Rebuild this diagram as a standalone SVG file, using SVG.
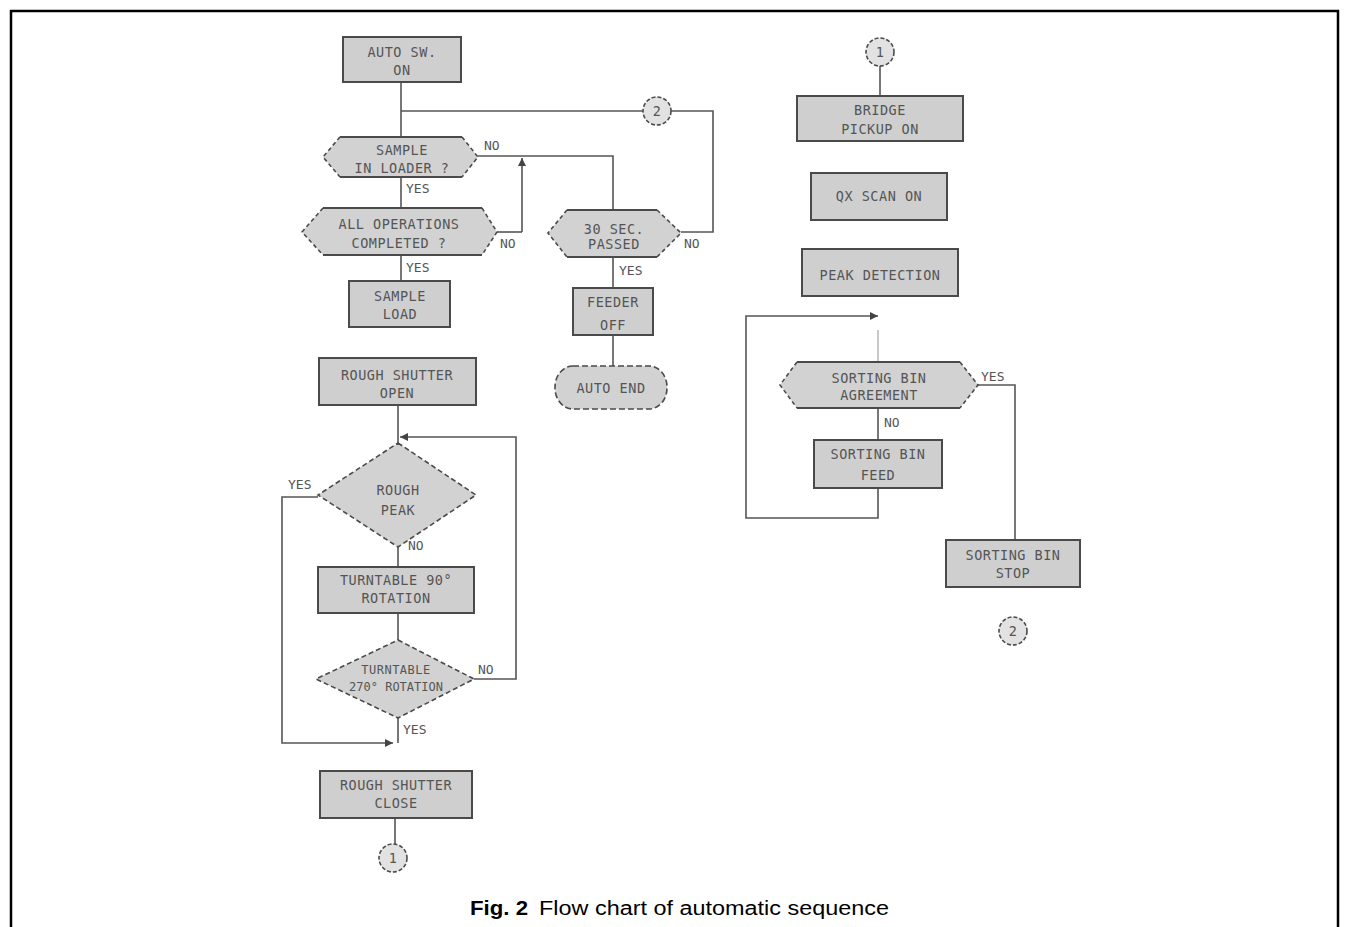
<svg xmlns="http://www.w3.org/2000/svg" width="1349" height="927" viewBox="0 0 1349 927">
<style>
.box{fill:#cfcfcf;stroke:#4a4a4a;stroke-width:2}
.fill{fill:#d2d2d2;stroke:none}
.solid{stroke:#4a4a4a;stroke-width:2;fill:none}
.dash{stroke:#4a4a4a;stroke-width:1.6;fill:none;stroke-dasharray:4 3}
.dia{fill:#d2d2d2;stroke:#4a4a4a;stroke-width:1.6;stroke-dasharray:5 3}
.con{stroke:#555;stroke-width:1.6;fill:none}
.t{font-family:"DejaVu Sans Mono","Liberation Mono",monospace;font-size:13.5px;fill:#555;text-anchor:middle;letter-spacing:0.5px}
.lbl{font-family:"DejaVu Sans Mono","Liberation Mono",monospace;font-size:13px;fill:#555}
.circ{fill:#e2e2e2;stroke:#4a4a4a;stroke-width:1.6;stroke-dasharray:4 2}
.cap{font-family:"Liberation Sans",Arial,sans-serif;font-size:20px;fill:#000}
</style>
<defs>
<marker id="ah" markerWidth="10" markerHeight="10" refX="8" refY="5" orient="auto" markerUnits="userSpaceOnUse">
<path d="M0,1 L8,5 L0,9 z" fill="#444"/>
</marker>
</defs>
<path d="M11,927 L11,11 L1338,11 L1338,927" fill="none" stroke="#000" stroke-width="2.5"/>

<g id="connectors">
<line class="con" x1="401" y1="82" x2="401" y2="137"/>
<polyline class="con" points="401,111 643,111"/>
<polyline class="con" points="671,111 713,111 713,232 681,232"/>
<polyline class="con" points="478,156 613,156 613,210"/>
<line class="con" x1="522" y1="232" x2="522" y2="158" marker-end="url(#ah)"/>
<polyline class="con" points="497,232 522,232"/>
<line class="con" x1="401" y1="177" x2="401" y2="208"/>
<line class="con" x1="401" y1="255" x2="401" y2="281"/>
<line class="con" x1="613" y1="257" x2="613" y2="288"/>
<line class="con" x1="613" y1="335" x2="613" y2="366"/>
<line class="con" x1="398" y1="405" x2="398" y2="443"/>
<polyline class="con" points="474,679 516,679 516,437 400,437" marker-end="url(#ah)"/>
<polyline class="con" points="318,497 282,497 282,743 393,743" marker-end="url(#ah)"/>
<line class="con" x1="398" y1="547" x2="398" y2="567"/>
<line class="con" x1="398" y1="613" x2="398" y2="640"/>
<line class="con" x1="398" y1="718" x2="398" y2="743"/>
<line class="con" x1="395" y1="818" x2="395" y2="844"/>
<line class="con" x1="880" y1="66" x2="880" y2="96"/>
<polyline class="con" points="878,488 878,518 746,518 746,316 878,316" marker-end="url(#ah)"/>
<line class="con" x1="878" y1="330" x2="878" y2="362" stroke-opacity="0.4"/>
<polyline class="con" points="978,385 1015,385 1015,540"/>
<line class="con" x1="878" y1="408" x2="878" y2="440"/>
</g>

<g id="n_auto_sw">
<rect class="box" x="343" y="37" width="118" height="45"/>
<text class="t" x="402" y="57">AUTO SW.</text>
<text class="t" x="402" y="75">ON</text>
</g>

<g id="n_sample_in_loader">
<polygon class="fill" points="323,157 340,137 462,137 478,157 462,177 340,177"/>
<path class="solid" d="M340,137 L462,137 M340,177 L462,177"/>
<path class="dash" d="M340,137 L323,157 L340,177 M462,137 L478,157 L462,177"/>
<text class="t" x="402" y="155">SAMPLE</text>
<text class="t" x="402" y="173">IN LOADER ?</text>
<text class="lbl" x="484" y="150">NO</text>
<text class="lbl" x="406" y="193">YES</text>
</g>

<g id="n_all_ops">
<polygon class="fill" points="302,232 323,208 482,208 497,232 482,255 323,255"/>
<path class="solid" d="M323,208 L482,208 M323,255 L482,255"/>
<path class="dash" d="M323,208 L302,232 L323,255 M482,208 L497,232 L482,255"/>
<text class="t" x="399" y="229">ALL OPERATIONS</text>
<text class="t" x="399" y="248">COMPLETED ?</text>
<text class="lbl" x="500" y="248">NO</text>
<text class="lbl" x="406" y="272">YES</text>
</g>

<g id="n_sample_load">
<rect class="box" x="349" y="281" width="101" height="46"/>
<text class="t" x="400" y="301">SAMPLE</text>
<text class="t" x="400" y="319">LOAD</text>
</g>

<g id="n_30sec">
<polygon class="fill" points="548,233 567,210 657,210 681,233 657,257 567,257"/>
<path class="solid" d="M567,210 L657,210 M567,257 L657,257"/>
<path class="dash" d="M567,210 L548,233 L567,257 M657,210 L681,233 L657,257"/>
<text class="t" x="614" y="234">30 SEC.</text>
<text class="t" x="614" y="249">PASSED</text>
<text class="lbl" x="684" y="248">NO</text>
<text class="lbl" x="619" y="275">YES</text>
</g>

<g id="n_feeder_off">
<rect class="box" x="573" y="288" width="80" height="47"/>
<text class="t" x="613" y="307">FEEDER</text>
<text class="t" x="613" y="330">OFF</text>
</g>

<g id="n_auto_end">
<rect x="555" y="366" width="112" height="43" rx="18" ry="21" fill="#d2d2d2" stroke="#4a4a4a" stroke-width="1.6" stroke-dasharray="6 3"/>
<text class="t" x="611" y="393">AUTO END</text>
</g>

<g id="n_rough_open">
<rect class="box" x="319" y="358" width="157" height="47"/>
<text class="t" x="397" y="380">ROUGH SHUTTER</text>
<text class="t" x="397" y="398">OPEN</text>
</g>

<g id="n_rough_peak">
<polygon class="dia" points="398,443 476,495 398,547 318,495"/>
<text class="t" x="398" y="495">ROUGH</text>
<text class="t" x="398" y="515">PEAK</text>
<text class="lbl" x="288" y="489">YES</text>
<text class="lbl" x="408" y="550">NO</text>
</g>

<g id="n_turn90">
<rect class="box" x="318" y="567" width="156" height="46"/>
<text class="t" x="396" y="585">TURNTABLE 90°</text>
<text class="t" x="396" y="603">ROTATION</text>
</g>

<g id="n_turn270">
<polygon class="dia" points="398,640 474,679 398,718 316,679"/>
<text class="t" x="396" y="674" style="font-size:12px">TURNTABLE</text>
<text class="t" x="396" y="691" style="font-size:12px;letter-spacing:0">270° ROTATION</text>
<text class="lbl" x="478" y="674">NO</text>
<text class="lbl" x="403" y="734">YES</text>
</g>

<g id="n_rough_close">
<rect class="box" x="320" y="771" width="152" height="47"/>
<text class="t" x="396" y="790">ROUGH SHUTTER</text>
<text class="t" x="396" y="808">CLOSE</text>
</g>

<g id="c1_bottom">
<circle class="circ" cx="393" cy="858" r="14"/>
<text class="t" x="393" y="863">1</text>
</g>

<g id="c2_top">
<circle class="circ" cx="657" cy="111" r="14"/>
<text class="t" x="657" y="116">2</text>
</g>

<g id="c1_top">
<circle class="circ" cx="880" cy="52" r="14"/>
<text class="t" x="880" y="57">1</text>
</g>

<g id="n_bridge">
<rect class="box" x="797" y="96" width="166" height="45"/>
<text class="t" x="880" y="115">BRIDGE</text>
<text class="t" x="880" y="134">PICKUP  ON</text>
</g>

<g id="n_scan">
<rect class="box" x="811" y="173" width="136" height="47"/>
<text class="t" x="879" y="201">QX SCAN ON</text>
</g>

<g id="n_peak_det">
<rect class="box" x="802" y="249" width="156" height="47"/>
<text class="t" x="880" y="280">PEAK DETECTION</text>
</g>

<g id="n_sort_agree">
<polygon class="fill" points="780,385 797,362 960,362 978,385 960,408 797,408"/>
<path class="solid" d="M797,362 L960,362 M797,408 L960,408"/>
<path class="dash" d="M797,362 L780,385 L797,408 M960,362 L978,385 L960,408"/>
<text class="t" x="879" y="383">SORTING BIN</text>
<text class="t" x="879" y="400">AGREEMENT</text>
<text class="lbl" x="981" y="381">YES</text>
<text class="lbl" x="884" y="427">NO</text>
</g>

<g id="n_sort_feed">
<rect class="box" x="814" y="440" width="128" height="48"/>
<text class="t" x="878" y="459">SORTING BIN</text>
<text class="t" x="878" y="480">FEED</text>
</g>

<g id="n_sort_stop">
<rect class="box" x="946" y="540" width="134" height="47"/>
<text class="t" x="1013" y="560">SORTING BIN</text>
<text class="t" x="1013" y="578">STOP</text>
</g>

<g id="c2_bottom">
<circle class="circ" cx="1013" cy="631" r="14"/>
<text class="t" x="1013" y="636">2</text>
</g>

<g id="caption">
<text class="cap" x="470" y="915" font-weight="bold" textLength="58" lengthAdjust="spacingAndGlyphs">Fig. 2</text>
<text class="cap" x="539" y="915" textLength="350" lengthAdjust="spacingAndGlyphs">Flow chart of automatic sequence</text>
</g>
</svg>
